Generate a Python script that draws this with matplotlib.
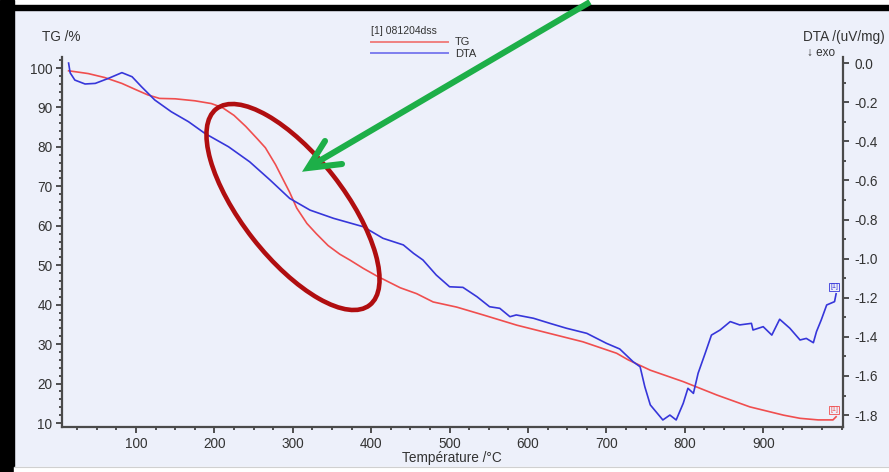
import numpy as np
import matplotlib
matplotlib.use("Agg")
from matplotlib import pyplot as plt
from matplotlib.patches import Ellipse, Rectangle
from matplotlib.lines import Line2D
from matplotlib.ticker import MultipleLocator, FormatStrFormatter

# TG curve (temperature /°C, mass /%)
T_tg = [14, 25, 39, 60, 82, 100, 115, 130, 150, 175, 196, 210, 225, 240, 255, 265,
        278, 288, 296, 305, 318, 330, 345, 360, 373, 390, 407, 437, 458, 479, 509,
        543, 586, 628, 670, 713, 728, 756, 798, 841, 883, 926, 947, 970, 989, 993]
tg = [99.3, 99.0, 98.6, 97.6, 96.1, 94.5, 93.2, 92.3, 92.2, 91.7, 91.0, 90.0, 88.0,
      85.2, 82.0, 79.8, 75.5, 71.6, 68.5, 64.5, 60.6, 58.0, 55.0, 52.8, 51.3, 49.2,
      47.3, 44.3, 42.8, 40.7, 39.4, 37.4, 34.8, 32.7, 30.6, 27.7, 26.0, 23.4, 20.5,
      17.1, 14.1, 12.0, 11.2, 10.8, 10.8, 11.6]

# DTA curve (temperature /°C, uV/mg)
T_dta = [14, 16, 22, 35, 48, 65, 82, 95, 107, 124, 145, 167, 188, 218, 245, 271, 296,
         322, 352, 390, 415, 441, 454, 466, 483, 500, 517, 535, 551, 564, 577, 585,
         607, 628, 649, 675, 700, 717, 734, 743, 749, 756, 772, 781, 789, 798, 804,
         811, 817, 826, 834, 845, 858, 870, 885, 887, 900, 911, 921, 934, 947, 955,
         964, 968, 974, 981, 991, 993]
dta = [0.0, -0.05, -0.087, -0.107, -0.104, -0.078, -0.049, -0.07, -0.121, -0.189,
       -0.249, -0.30, -0.36, -0.428, -0.505, -0.598, -0.692, -0.752, -0.794, -0.837,
       -0.896, -0.93, -0.973, -1.007, -1.084, -1.144, -1.147, -1.195, -1.246, -1.254,
       -1.297, -1.288, -1.305, -1.331, -1.356, -1.382, -1.433, -1.462, -1.527, -1.553,
       -1.655, -1.748, -1.825, -1.80, -1.825, -1.74, -1.663, -1.689, -1.586, -1.484,
       -1.391, -1.365, -1.322, -1.339, -1.331, -1.365, -1.348, -1.391, -1.31, -1.356,
       -1.416, -1.408, -1.43, -1.373, -1.314, -1.237, -1.22, -1.18]

x_ticks = [100, 200, 300, 400, 500, 600, 700, 800, 900]
tg_ticks = [10, 20, 30, 40, 50, 60, 70, 80, 90, 100]
dta_ticks = [0.0, -0.2, -0.4, -0.6, -0.8, -1.0, -1.2, -1.4, -1.6, -1.8]

bg = "#EDF0FA"
txt = "#333333"
plt.rcParams['font.family'] = ['Liberation Sans', 'DejaVu Sans']
plt.rcParams['font.size'] = 9.8
plt.rcParams['axes.unicode_minus'] = False

W, H = 889, 472
fig = plt.figure(figsize=(W/100, H/100), dpi=100, facecolor=bg)
ax = fig.add_axes([62/W, 1-427/H, (843-62)/W, (427-57)/H])
ax.set_facecolor(bg)
ax2 = ax.twinx()

l_tg, = ax.plot(T_tg, tg, color="#F04E4E", lw=1.2)
l_dta, = ax2.plot(T_dta, dta, color="#3636DA", lw=1.2)

ax.set_xlim(5.6, 1001.8)
ax.set_ylim(9.0, 102.8)
ax2.set_ylim(-1.861, 0.031)
ax.set_xticks(x_ticks)
ax.set_yticks(tg_ticks)
ax2.set_yticks(dta_ticks)
ax2.yaxis.set_major_formatter(FormatStrFormatter('%.1f'))
ax.xaxis.set_minor_locator(MultipleLocator(25))
ax.yaxis.set_minor_locator(MultipleLocator(2))
ax2.yaxis.set_minor_locator(MultipleLocator(0.1))

for a in [ax, ax2]:
    for s in a.spines.values():
        s.set_color("#4a4a4a")
        s.set_linewidth(1.6)
    a.spines['top'].set_visible(False)
    a.tick_params(which='major', direction='out', length=4, width=1.2, color="#333",
                  labelcolor=txt, labelsize=9.8)
    a.tick_params(which='minor', direction='out', length=2, width=1.2, color="#333")
ax.tick_params(axis='y', pad=3)
ax.tick_params(axis='x', pad=3)
ax2.tick_params(axis='y', pad=4)
ax2.spines['left'].set_visible(False)
ax2.spines['bottom'].set_visible(False)
ax.spines['right'].set_visible(False)

ax.set_xlabel("Température /°C", color=txt)
ax.xaxis.set_label_coords(0.499, -0.085)
ax.xaxis.label.set_va('center')
ax.text(-0.0013, 1.054, "TG /%", transform=ax.transAxes, ha='center', va='center', color=txt)
ax.text(1.0006, 1.054, "DTA /(uV/mg)", transform=ax.transAxes, ha='center', va='center', color=txt)
ax.text(0.972, 1.011, "↓ exo", transform=ax.transAxes, ha='center', va='center',
        color=txt, fontsize=8.5)

# curve end markers
ax.annotate("[1]", (T_tg[-1], tg[-1]), xytext=(-1.5, 5), textcoords='offset points',
            ha='center', va='center', fontsize=5, color="#F04E4E",
            bbox=dict(boxstyle='square,pad=0.1', fc='none', ec="#F04E4E", lw=0.6))
ax2.annotate("[1]", (T_dta[-1], dta[-1]), xytext=(-1.5, 5), textcoords='offset points',
             ha='center', va='center', fontsize=5, color="#3636DA",
             bbox=dict(boxstyle='square,pad=0.1', fc='none', ec="#3636DA", lw=0.6))

h_tg = Line2D([], [], color="#F08080", lw=1.4)
h_dta = Line2D([], [], color="#7E7EEE", lw=1.4)
leg = ax2.legend([h_tg, h_dta], ["TG", "DTA"], title="[1] 081204dss", loc='upper left',
                 bbox_to_anchor=(0.388, 1.098), frameon=False, fontsize=8, title_fontsize=7.5,
                 handlelength=7, handletextpad=0.6, labelspacing=0.1, borderpad=0,
                 alignment='left')
for t in leg.get_texts():
    t.set_color(txt)
leg.get_title().set_color(txt)

# overlay in pixel coordinates for the frame and the hand-drawn marks
ov = fig.add_axes([0, 0, 1, 1], zorder=10)
ov.set_xlim(0, W)
ov.set_ylim(H, 0)
ov.axis('off')
ov.patch.set_alpha(0)

ov.add_patch(Ellipse((293, 207), 249, 102, angle=52, fill=False, ec="#B00E10", lw=3.3))
green = "#1DAF48"
ov.plot([590, 309], [2, 167], color=green, lw=4.4, solid_capstyle='butt')
ov.plot([325, 308, 342], [141, 168, 164], color=green, lw=4.4,
        solid_capstyle='round', solid_joinstyle='miter')

ov.add_patch(Rectangle((0, 0), W, 5, color="white"))
ov.add_patch(Rectangle((0, 5), W, 5, color="black"))
ov.add_patch(Rectangle((0, 0), 14, H, color="black"))
ov.add_patch(Rectangle((14, 467), W, 5, color="white"))
ov.plot([14, W], [467, 467], color="#d0d0d0", lw=0.8)

plt.savefig("out.png", dpi=100, facecolor=bg)
